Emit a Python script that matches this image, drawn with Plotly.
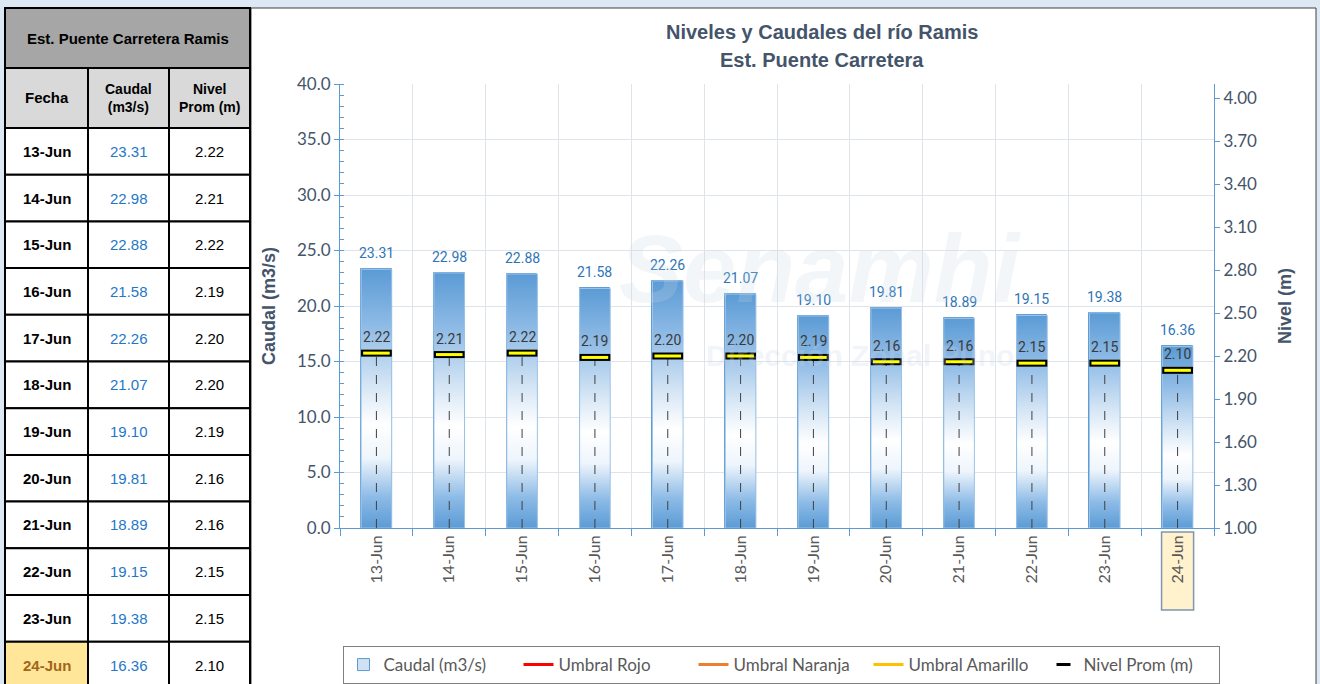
import plotly.graph_objects as go

# ---------------- data ----------------
fechas = ["13-Jun", "14-Jun", "15-Jun", "16-Jun", "17-Jun", "18-Jun",
          "19-Jun", "20-Jun", "21-Jun", "22-Jun", "23-Jun", "24-Jun"]
caudal = [23.31, 22.98, 22.88, 21.58, 22.26, 21.07, 19.10, 19.81, 18.89, 19.15, 19.38, 16.36]
nivel = [2.22, 2.21, 2.22, 2.19, 2.20, 2.20, 2.19, 2.16, 2.16, 2.15, 2.15, 2.10]
y1_ticks = [0, 5, 10, 15, 20, 25, 30, 35, 40]
y2_ticks = [1.00, 1.30, 1.60, 1.90, 2.20, 2.50, 2.80, 3.10, 3.40, 3.70, 4.00]

W, H = 1320, 684
idx = list(range(len(fechas)))
BW = 0.42
AX = "#44546a"
LBL = "#2e75b6"


def px(x):
    return x / W


def py(y):
    return 1 - y / H


fig = go.Figure()

# base bars (legend + hover)
fig.add_trace(go.Bar(x=idx, y=caudal, width=BW, name="Caudal (m3/s)",
                     marker=dict(color="#cfe1f3", line=dict(color="#5b9bd5", width=1)),
                     yaxis="y", showlegend=True))

# gradient overlay for each bar
grad = [[0, "#5b9bd5"], [0.12, "#8dbbe6"], [0.27, "#eef5fc"], [0.4, "#ffffff"],
        [0.55, "#d6e6f5"], [0.78, "#8fbbe6"], [1, "#5b9bd5"]]
for i, v in zip(idx, caudal):
    fig.add_trace(go.Scatter(
        x=[i - BW / 2, i + BW / 2, i + BW / 2, i - BW / 2, i - BW / 2],
        y=[0, 0, v, v, 0], mode="lines", fill="toself",
        fillgradient=dict(type="vertical", colorscale=grad, start=0, stop=v),
        line=dict(color="#9dc3e6", width=1), showlegend=False, hoverinfo="skip",
        yaxis="y"))

# threshold legend-only traces
for nm, col in [("Umbral Rojo", "#ff0000"), ("Umbral Naranja", "#ed7d31"),
                ("Umbral Amarillo", "#ffc000")]:
    fig.add_trace(go.Scatter(x=[None], y=[None], mode="lines", name=nm,
                             line=dict(color=col, width=3), yaxis="y2"))

# dashed drop lines for nivel
dx, dy = [], []
for i, n in zip(idx, nivel):
    dx += [i, i, None]
    dy += [y2_ticks[0], n, None]
fig.add_trace(go.Scatter(x=dx, y=dy, mode="lines", line=dict(color="#404040", width=1, dash="dash"),
                         showlegend=False, hoverinfo="skip", yaxis="y2"))

# nivel markers (black outline + yellow inner)
fig.add_trace(go.Scatter(x=idx, y=nivel, mode="markers", yaxis="y2", showlegend=False,
                         marker=dict(symbol="line-ew", size=22, line=dict(color="#000000", width=7)),
                         hoverinfo="skip"))
fig.add_trace(go.Scatter(x=idx, y=nivel, mode="markers", yaxis="y2", showlegend=False,
                         marker=dict(symbol="line-ew", size=19, line=dict(color="#ffff00", width=3)),
                         name="Nivel Prom (m)"))
fig.add_trace(go.Scatter(x=[None], y=[None], mode="markers", yaxis="y2", name="Nivel Prom (m)",
                         marker=dict(symbol="line-ew", size=10, line=dict(color="#000000", width=3))))

ann = []
shapes = []

# value labels
for i, v in zip(idx, caudal):
    ann.append(dict(x=i, y=v, xref="x", yref="y", text=f"{v:.2f}", showarrow=False,
                    xanchor="center", yanchor="bottom", yshift=6,
                    font=dict(family="Roboto, sans-serif", size=14, color=LBL)))
for i, n in zip(idx, nivel):
    ann.append(dict(x=i, y=n, xref="x", yref="y2", text=f"{n:.2f}", showarrow=False,
                    xanchor="center", yanchor="bottom", yshift=6,
                    font=dict(family="Roboto, sans-serif", size=14, color="#3a3a3a")))

# watermark (faint)
ann.append(dict(x=px(820), y=py(268), xref="paper", yref="paper", text="<b><i>Senamhi</i></b>",
                xanchor="center", yanchor="middle",
                showarrow=False, font=dict(family="Liberation Sans", size=96, color="rgba(200,212,228,0.22)")))
ann.append(dict(x=px(860), y=py(355), xref="paper", yref="paper", text="<b>Dirección Zonal Puno</b>",
                xanchor="center", yanchor="middle",
                showarrow=False, font=dict(family="Liberation Sans", size=30, color="rgba(200,212,228,0.25)")))

# title
ann.append(dict(x=px(822), y=py(32), xref="paper", yref="paper", xanchor="center", yanchor="middle",
                text="<b>Niveles y Caudales del río Ramis</b>", showarrow=False,
                font=dict(family="Liberation Sans", size=20, color=AX)))
ann.append(dict(x=px(822), y=py(60), xref="paper", yref="paper", xanchor="center", yanchor="middle",
                text="<b>Est. Puente Carretera</b>", showarrow=False,
                font=dict(family="Liberation Sans", size=20, color=AX)))

# chart panel background
shapes.append(dict(type="rect", xref="paper", yref="paper", x0=px(251), x1=px(1316), y0=py(690), y1=py(8),
                   fillcolor="#ffffff", line=dict(color="#404040", width=1), layer="below"))

# highlight last date label
shapes.append(dict(type="rect", xref="x", yref="paper", x0=idx[-1] - 0.22, x1=idx[-1] + 0.22,
                   y0=py(610), y1=py(532), fillcolor="#fff2cc", line=dict(color="#7f96b2", width=1.5),
                   layer="below"))

# ---------------- table ----------------
TX = [5, 88, 169, 250]
TY0, TY1, TY2 = 8, 68, 128
RH = 46.7
BLK = dict(color="#000000", width=2)
shapes.append(dict(type="rect", xref="paper", yref="paper", x0=px(TX[0]), x1=px(TX[3]), y0=py(TY1), y1=py(TY0),
                   fillcolor="#a6a6a6", line=BLK))
ann.append(dict(x=px((TX[0] + TX[3]) / 2), y=py((TY0 + TY1) / 2), xref="paper", yref="paper",
                xanchor="center", yanchor="middle",
                text="<b>Est. Puente Carretera Ramis</b>", showarrow=False,
                font=dict(family="Liberation Sans", size=15, color="#000000")))
heads = ["<b>Fecha</b>", "<b>Caudal<br>(m3/s)</b>", "<b>Nivel<br>Prom (m)</b>"]
for c in range(3):
    shapes.append(dict(type="rect", xref="paper", yref="paper", x0=px(TX[c]), x1=px(TX[c + 1]),
                       y0=py(TY2), y1=py(TY1), fillcolor="#d9d9d9", line=BLK))
    ann.append(dict(x=px((TX[c] + TX[c + 1]) / 2), y=py((TY1 + TY2) / 2), xref="paper", yref="paper",
                    xanchor="center", yanchor="middle",
                    text=heads[c], showarrow=False,
                    font=dict(family="Liberation Sans", size=14 if c else 15, color="#000000")))
for r, (f, q, n) in enumerate(zip(fechas, caudal, nivel)):
    y0 = TY2 + r * RH
    y1 = y0 + RH
    last = r == len(fechas) - 1
    vals = [f"<b>{f}</b>", f"{q:.2f}", f"{n:.2f}"]
    cols = ["#a0661a" if last else "#000000", "#1f77c8", "#000000"]
    for c in range(3):
        fill = "#ffe699" if (last and c == 0) else "#ffffff"
        shapes.append(dict(type="rect", xref="paper", yref="paper", x0=px(TX[c]), x1=px(TX[c + 1]),
                           y0=py(y1), y1=py(y0), fillcolor=fill, line=BLK))
        ann.append(dict(x=px((TX[c] + TX[c + 1]) / 2), y=py((y0 + y1) / 2), xref="paper", yref="paper",
                        xanchor="center", yanchor="middle",
                        text=vals[c], showarrow=False,
                        font=dict(family="Liberation Sans", size=15, color=cols[c])))

fig.update_layout(
    width=W, height=H, margin=dict(l=0, r=0, t=0, b=0, autoexpand=False),
    paper_bgcolor="#dce8f4", plot_bgcolor="#ffffff",
    showlegend=True, bargap=0,
    xaxis=dict(domain=[px(340), px(1214)], range=[-0.5, len(fechas) - 0.5],
               tickmode="array", tickvals=idx, ticktext=fechas, tickangle=-90,
               tickfont=dict(family="Lato, sans-serif", size=16, color="#595959"),
               showgrid=False, zeroline=False, showline=True, linecolor="#5b9bd5", linewidth=1,
               ticks="", ticklen=0, automargin=False,
               minor=dict(tickmode="array", tickvals=[i + 0.5 for i in idx[:-1]] + [-0.5, len(fechas) - 0.5],
                          showgrid=True, gridcolor="#dfe4ea", gridwidth=1,
                          ticks="outside", ticklen=7, tickcolor="#5b9bd5")),
    yaxis=dict(domain=[py(528), py(84)], range=[0, 40], tickmode="array", tickvals=y1_ticks,
               tickformat=".1f", tickfont=dict(family="Lato, sans-serif", size=17, color=AX),
               showgrid=True, gridcolor="#dfe4ea", zeroline=False, automargin=False,
               showline=True, linecolor="#5b9bd5", linewidth=1, ticks="outside", ticklen=5,
               tickcolor="#5b9bd5",
               minor=dict(dtick=1, ticks="inside", ticklen=4, tickcolor="#5b9bd5", showgrid=False),
               title=dict(text="<b>Caudal (m3/s)</b>", standoff=16,
                          font=dict(family="Liberation Sans", size=18, color=AX))),
    yaxis2=dict(overlaying="y", side="right", anchor="x", automargin=False,
                range=[1.0, 1.0 + (444 / 430) * 3.0], tickmode="array", tickvals=y2_ticks,
                tickformat=".2f", tickfont=dict(family="Lato, sans-serif", size=17, color=AX),
                showgrid=False, zeroline=False, showline=True, linecolor="#5b9bd5", linewidth=1,
                ticks="outside", ticklen=5, tickcolor="#5b9bd5",
                title=dict(text="<b>Nivel (m)</b>", standoff=22,
                           font=dict(family="Liberation Sans", size=18, color=AX))),
    legend=dict(orientation="h", x=px(781), xanchor="center", y=py(646), yanchor="top",
                bgcolor="#ffffff", bordercolor="#7f7f7f", borderwidth=1,
                font=dict(family="Lato, sans-serif", size=17, color="#595959"),
                itemwidth=30, entrywidth=130, traceorder="normal"),
    annotations=ann, shapes=shapes,
)

fig.write_html("out.html", config={"displayModeBar": False},
               post_script="document.body.style.margin='0';document.body.style.padding='0';")
